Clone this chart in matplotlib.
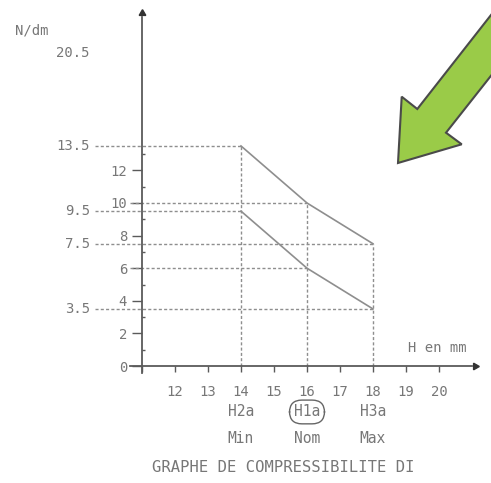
import matplotlib
matplotlib.use("Agg")
import matplotlib.pyplot as plt
from matplotlib.patches import Polygon

# compression force (N/dm) against height H (mm) for the three sizes
h_mm = [14, 16, 18]
force_upper = [13.5, 10, 7.5]
force_lower = [9.5, 6, 3.5]
size_codes = ["H2a", "H1a", "H3a"]
size_names = ["Min", "Nom", "Max"]
x_ticks = [12, 13, 14, 15, 16, 17, 18, 19, 20]
y_ticks = [0, 2, 4, 6, 8, 10, 12]

W, H = 491, 483
TXT = "#777777"
LINE = "#8e8e8e"
AXC = "#5a5a5a"
FONT = "DejaVu Sans Mono"

plt.rcParams["font.family"] = FONT

fig = plt.figure(figsize=(W / 100, H / 100), dpi=100)
ax = fig.add_axes([0, 0, 1, 1])

# pixel layout: x=11 at px 142, 33 px per mm; y=0 at px 366, 16.3 px per N/dm
ax.set_xlim(11 - 142 / 33, 11 + (W - 142) / 33)
ax.set_ylim(-(H - 366) / 16.3, 366 / 16.3)
ax.patch.set_alpha(0)

for s in ("top", "right"):
    ax.spines[s].set_visible(False)
ax.spines["left"].set_position(("data", 11))
ax.spines["bottom"].set_position(("data", 0))
ax.spines["left"].set_bounds(-0.45, 21.4)
ax.spines["bottom"].set_bounds(10.64, 21.0)
for s in ("left", "bottom"):
    ax.spines[s].set_color(AXC)
    ax.spines[s].set_linewidth(1.3)

# arrow heads on both axes
ax.plot([11], [21.65], marker=(3, 0, 0), color="#333333", markersize=5.5,
        clip_on=False)
ax.plot([21.1], [0], marker=(3, 0, -90), color="#333333", markersize=5.5,
        clip_on=False)

ax.set_yticks(y_ticks)
ax.set_yticklabels([str(v) for v in y_ticks])
ax.set_yticks(range(1, 14, 2), minor=True)
ax.tick_params(axis="y", which="major", direction="out", length=7.2, width=1,
               color=AXC, pad=3.5, labelsize=10, labelcolor=TXT)
ax.tick_params(axis="y", which="minor", direction="in", length=2.4, width=1,
               color=AXC)

ax.set_xticks([11] + x_ticks)
ax.set_xticklabels([""] + [str(v) for v in x_ticks])
ax.tick_params(axis="x", which="major", direction="out", length=4.5, width=1,
               color=AXC, pad=9, labelsize=10, labelcolor=TXT)

dash = (0, (2.2, 1.6))
x_left = 9.58
x_tick = 10.64

# dashed reference lines from the curve points to the axes
for i, (x, yu, yl) in enumerate(zip(h_mm, force_upper, force_lower)):
    start = x_tick if i == 1 else x_left
    ax.hlines(yu, start, x, colors=LINE, linestyles=dash, lw=1)
    ax.hlines(yl, start, x, colors=LINE, linestyles=dash, lw=1)
    ax.vlines(x, 0, yu, colors=LINE, linestyles=dash, lw=1)
    if i != 1:
        ax.text(9.42, yu, f"{yu:g}", ha="right", va="center", fontsize=10, color=TXT)
        ax.text(9.42, yl, f"{yl:g}", ha="right", va="center", fontsize=10, color=TXT)

ax.plot(h_mm, force_upper, color=LINE, lw=1.2)
ax.plot(h_mm, force_lower, color=LINE, lw=1.2)

for x, code, name in zip(h_mm, size_codes, size_names):
    box = None
    if code == "H1a":
        box = dict(boxstyle="round,pad=0.3,rounding_size=0.85", fc="none",
                   ec="#666666", lw=1)
    ax.text(x, -2.82, code, ha="center", va="center", fontsize=10.5, color=TXT,
            bbox=box)
    ax.text(x, -4.42, name, ha="center", va="center", fontsize=10.5, color=TXT)

ax.text(19.94, 1.1, "H en mm", ha="center", va="center", fontsize=10, color=TXT)
ax.text(7.67, 20.6, "N/dm", ha="center", va="center", fontsize=10, color=TXT)
ax.text(9.42, 19.2, "20.5", ha="right", va="center", fontsize=10, color=TXT)
ax.text(15.27, -6.2, "GRAPHE DE COMPRESSIBILITE DI", ha="center", va="center",
        fontsize=11.2, color=TXT)

# green pointer arrow in the top right corner (pixel outline)
arrow_px = [(398, 163), (401.7, 96.7), (417.3, 109), (520, -22),
            (520, 39), (446, 132.7), (461.7, 144.3)]
arrow = Polygon([(px / W, 1 - py / H) for px, py in arrow_px], closed=True,
                transform=fig.transFigure, fc="#9acb48", ec="#4a4a4a", lw=1.5)
fig.patches.append(arrow)

fig.savefig("out.png", dpi=100, facecolor="white")
